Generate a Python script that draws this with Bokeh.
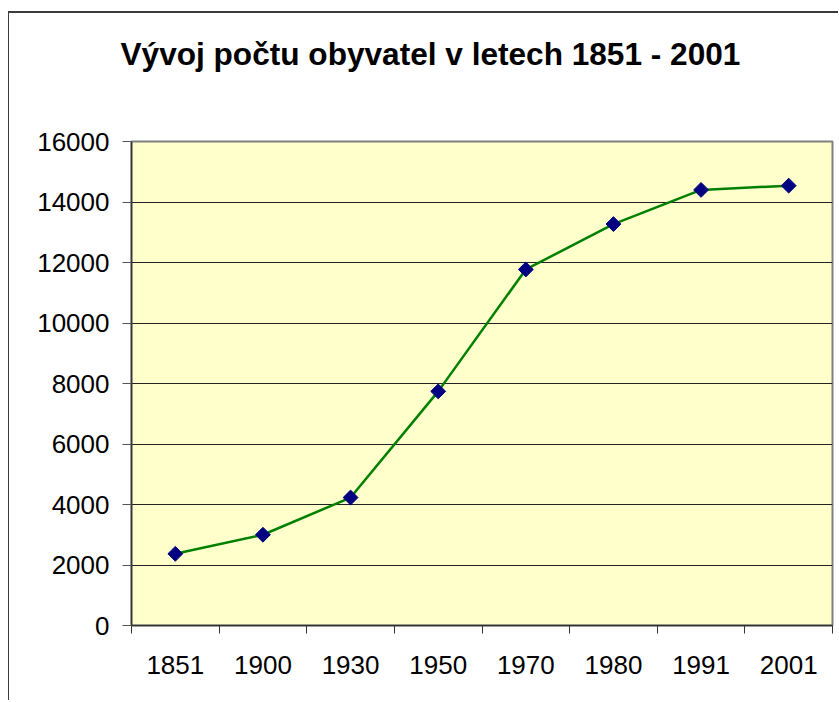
from bokeh.plotting import figure
from bokeh.models import FixedTicker, ColumnDataSource, Range1d, Title
from bokeh.embed import file_html
from bokeh.resources import INLINE
import math

years = ["1851", "1900", "1930", "1950", "1970", "1980", "1991", "2001"]
population = [2370, 3000, 4230, 7740, 11770, 13270, 14400, 14540]
y_ticks = [0, 2000, 4000, 6000, 8000, 10000, 12000, 14000, 16000]
title_text = "Vývoj počtu obyvatel v letech 1851 - 2001"

xpos = [i + 0.5 for i in range(len(years))]
src = ColumnDataSource(dict(x=xpos, y=population, year=years))

p = figure(width=830, height=689, output_backend="svg", toolbar_location=None,
           x_range=Range1d(0, len(years)), y_range=Range1d(0, 16000),
           min_border_left=122, min_border_right=7, min_border_top=128, min_border_bottom=77,
           background_fill_color="#FFFFCC", border_fill_color="white",
           styles={"margin-top": "11px", "margin-left": "8px",
                   "border-top": "2px solid #3c3c3c",
                   "border-left": "1px solid #3c3c3c"})

# spacer between the plot area and the title
p.add_layout(Title(text=" ", text_font_size="10px", standoff=55), "above")
p.add_layout(Title(text=title_text, text_font="Liberation Sans", text_font_size="31.6px",
                   text_font_style="bold", text_color="black", align="left", offset=-11,
                   vertical_align="top", standoff=0), "above")

p.outline_line_color = "#808080"
p.outline_line_width = 2

p.line("x", "y", source=src, line_color="#008000", line_width=2.5)
p.scatter("x", "y", source=src, marker="square", angle=math.pi / 4, size=10.5,
          fill_color="#000080", line_color="#000080")

# y axis
p.yaxis.ticker = FixedTicker(ticks=y_ticks, minor_ticks=[])
p.yaxis.axis_line_color = "#333333"
p.yaxis.axis_line_width = 1.5
p.yaxis.major_tick_line_color = "#555555"
p.yaxis.major_tick_out = 9
p.yaxis.major_tick_in = 0
p.yaxis.major_label_standoff = 13
p.yaxis.major_label_text_font = "Liberation Sans"
p.yaxis.major_label_text_font_size = "26px"
p.yaxis.major_label_text_color = "black"

# x axis: labels at category centres, ticks at category boundaries
p.xaxis.ticker = FixedTicker(ticks=xpos, minor_ticks=list(range(len(years) + 1)))
p.xaxis.major_label_overrides = {x: y for x, y in zip(xpos, years)}
p.xaxis.major_tick_out = 0
p.xaxis.major_tick_in = 0
p.xaxis.minor_tick_out = 8
p.xaxis.minor_tick_in = 0
p.xaxis.minor_tick_line_color = "#333333"
p.xaxis.axis_line_color = "#333333"
p.xaxis.axis_line_width = 1.5
p.xaxis.major_label_standoff = 22
p.xaxis.major_label_text_font = "Liberation Sans"
p.xaxis.major_label_text_font_size = "26px"
p.xaxis.major_label_text_color = "black"

p.xgrid.grid_line_color = None
p.ygrid.ticker = FixedTicker(ticks=y_ticks)
p.ygrid.grid_line_color = "#222222"
p.ygrid.grid_line_width = 1

open("out.html", "w").write(file_html(p, INLINE))
